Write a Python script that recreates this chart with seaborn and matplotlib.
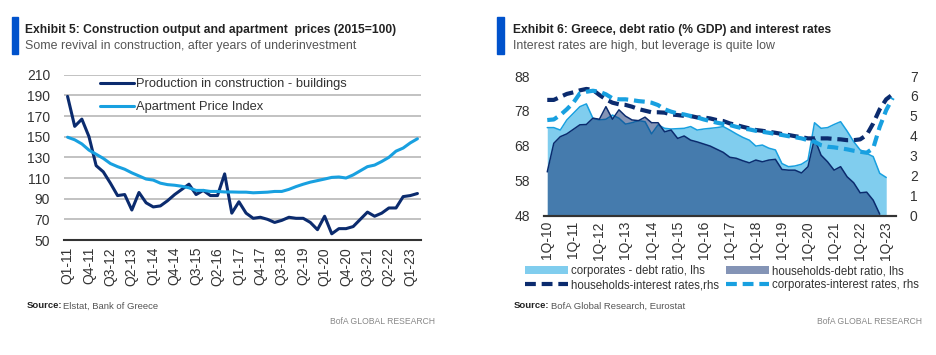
import numpy as np
import pandas as pd
import matplotlib
matplotlib.use("Agg")
import matplotlib.pyplot as plt
import seaborn as sns
from matplotlib.patches import Patch, Rectangle
from matplotlib.lines import Line2D

# ---- Exhibit 5: construction output and apartment prices (2015=100), Q1-11 .. Q2-23
production = [189, 160, 167, 150, 122, 116, 105, 93, 94, 79, 96, 86,
              82, 83, 88, 94, 99, 104, 94, 98, 93, 93, 114, 76,
              87, 76, 71, 72, 70, 67, 69, 72, 71, 71, 67, 60,
              73, 56, 61, 61, 63, 70, 77, 73, 76, 81, 81, 92, 93, 95]
apartment = [149.5, 147, 143, 137, 133, 129, 124, 121, 118.5, 115, 112, 109,
             108, 105, 103.6, 103, 102, 100.5, 98, 98, 97, 97, 96.5, 96.5,
             96.3, 96.3, 95.7, 96, 96.3, 97, 97, 99, 101.7, 104, 106, 107.5,
             109, 110.6, 111, 110, 113, 117, 121, 122.5, 126, 130, 136, 139, 144, 148]
left_ticklabels = ["Q1-11", "Q4-11", "Q3-12", "Q2-13", "Q1-14", "Q4-14", "Q3-15", "Q2-16", "Q1-17",
                   "Q4-17", "Q3-18", "Q2-19", "Q1-20", "Q4-20", "Q3-21", "Q2-22", "Q1-23"]

# ---- Exhibit 6: Greece debt ratio (% GDP, lhs) and interest rates (rhs), 1Q-10 .. 2Q-23
nan = np.nan
hh_debt = [60.5, 68.7, 70.6, 71.4, 72.7, 74.0, 74.1, 75.9, 75.6, 79.2,
           75.6, 78.3, 76.5, 75.4, 75.2, 76.2, 74.6, 74.6, 72.0, 72.5,
           70.1, 70.8, 69.6, 69.1, 68.5, 67.9, 67.0, 66.1, 64.7, 64.4,
           63.7, 63.1, 63.9, 63.4, 63.9, 64.1, 61.2, 61.0, 61.0, 60.2,
           62.0, 70.1, 65.3, 63.4, 61.0, 62.0, 59.1, 57.4, 54.5, 54.7,
           52.4, 48.4, nan, nan]
corp_debt = [73.2, 73.2, 72.5, 75.4, 77.3, 79.2, 80.0, 75.9, 75.4, 75.6,
             76.8, 75.9, 74.2, 74.6, 75.2, 74.9, 71.4, 74.0, 73.0, 72.8,
             72.9, 73.0, 73.5, 72.5, 72.8, 73.0, 73.2, 73.5, 72.5, 71.4,
             70.4, 69.6, 67.9, 68.2, 67.3, 66.8, 62.9, 62.0, 62.2, 62.7,
             63.9, 74.6, 73.0, 73.2, 74.1, 74.9, 72.2, 69.2, 66.8, 65.8,
             64.9, 60.1, 58.9, nan]
hh_rate = [5.8, 5.8, 5.95, 6.1, 6.18, 6.28, 6.35, 6.3, 6.05, 5.83,
           5.66, 5.58, 5.55, 5.46, 5.34, 5.26, 5.18, 5.18, 5.16, 5.07,
           5.04, 5.0, 4.99, 4.92, 4.92, 4.87, 4.79, 4.74, 4.62, 4.54,
           4.45, 4.37, 4.29, 4.25, 4.2, 4.15, 4.09, 4.04, 3.98, 3.93,
           3.87, 3.87, 3.87, 3.87, 3.84, 3.82, 3.78, 3.78, 3.82, 4.04,
           4.62, 5.33, 5.83, 6.08]
corp_rate = [4.79, 4.82, 5.04, 5.33, 5.66, 6.13, 6.21, 6.26, 6.21, 6.08,
             5.88, 5.83, 5.83, 5.79, 5.74, 5.71, 5.66, 5.54, 5.33, 5.21,
             5.12, 5.07, 4.99, 4.92, 4.82, 4.74, 4.66, 4.59, 4.54, 4.45,
             4.37, 4.32, 4.25, 4.2, 4.15, 4.09, 4.04, 3.98, 3.93, 3.87,
             3.78, 3.70, 3.53, 3.45, 3.42, 3.37, 3.32, 3.25, 3.2, 3.15,
             3.37, 4.45, 5.29, 5.9]
right_ticklabels = ["1Q-10", "1Q-11", "1Q-12", "1Q-13", "1Q-14", "1Q-15", "1Q-16",
                    "1Q-17", "1Q-18", "1Q-19", "1Q-20", "1Q-21", "1Q-22", "1Q-23"]

NAVY = "#0B2B6E"
LIGHT = "#18A0E0"
CORP_FILL = "#80CDEE"
BAR = "#0052CC"
TXT = "#333333"

sns.set_theme(style="white")
plt.rcParams['font.family'] = ['Liberation Sans', 'DejaVu Sans']
plt.rcParams['text.color'] = TXT
plt.rcParams['xtick.color'] = TXT
plt.rcParams['ytick.color'] = TXT

fig = plt.figure(figsize=(9.37, 3.55), dpi=100)
W, H = 937, 355


def fx(px):
    return px / W


def fy(py):
    return 1 - py / H


def header(x_bar, x_txt, title, subtitle, source, x_bofa):
    fig.patches.append(Rectangle((fx(x_bar), fy(54)), fx(6.6), 37 / H, transform=fig.transFigure,
                                 color=BAR, zorder=5))
    fig.text(fx(x_txt), fy(30), title, fontsize=8.7, fontweight="bold", va="center", color="#222222")
    fig.text(fx(x_txt), fy(46.5), subtitle, fontsize=8.9, va="center", color="#555555")
    fig.text(fx(x_txt + 1), fy(306), "Source:", fontsize=6.8, fontweight="bold", va="center", color="#222222")
    fig.text(fx(x_txt + 38), fy(306), source, fontsize=6.8, va="center", color="#555555")
    fig.text(fx(x_bofa), fy(321), "BofA GLOBAL RESEARCH", fontsize=6.2, va="center", color="#888888")


# ================= left chart =================
ax = fig.add_axes([fx(64), fy(240), fx(421 - 64), (240 - 74.7) / H])
df_left = pd.DataFrame({"q": np.arange(len(production)), "production": production, "apartment": apartment})
sns.lineplot(data=df_left, x="q", y="production", ax=ax, color=NAVY, lw=2.2,
             label="Production in construction - buildings")
sns.lineplot(data=df_left, x="q", y="apartment", ax=ax, color=LIGHT, lw=2.2,
             label="Apartment Price Index")
ax.set_xlim(-0.5, len(production) - 0.5)
ax.set_ylim(50, 210)
ax.set_yticks(range(50, 211, 20))
ax.yaxis.grid(True, color="#BDBDBD", lw=1.3)
ax.set_axisbelow(True)
ax.set_xticks(range(0, len(production), 3))
ax.set_xticklabels(left_ticklabels, rotation=90)
ax.tick_params(axis="both", length=0, labelsize=10)
ax.tick_params(axis="x", pad=5)
ax.tick_params(axis="y", pad=10)
ax.set_xlabel("")
ax.set_ylabel("")
for s in ["top", "right", "left"]:
    ax.spines[s].set_visible(False)
ax.spines["bottom"].set_color("#333333")
ax.spines["bottom"].set_linewidth(1.5)
ax.legend(loc="upper left", bbox_to_anchor=(fx(100), fy(78)), bbox_transform=fig.transFigure,
          frameon=False, fontsize=9.3, handlelength=2.6, handletextpad=0.2, labelspacing=0.85,
          borderpad=0, borderaxespad=0)

header(11.7, 25.5, "Exhibit 5: Construction output and apartment  prices (2015=100)",
       "Some revival in construction, after years of underinvestment",
       "Elstat, Bank of Greece", 330)

# ================= right chart =================
ax1 = fig.add_axes([fx(544), fy(215.5), fx(896 - 544), (215.5 - 76) / H])
qr = np.arange(len(hh_rate))
df_right = pd.DataFrame({"q": qr, "hh_debt": hh_debt, "corp_debt": corp_debt,
                         "hh_rate": hh_rate, "corp_rate": corp_rate})
ax1.fill_between(qr, 48, df_right["corp_debt"], color=CORP_FILL, lw=0, zorder=1)
sns.lineplot(data=df_right, x="q", y="corp_debt", ax=ax1, color=LIGHT, lw=1.1, zorder=2)
ax1.fill_between(qr, 48, df_right["hh_debt"], color=NAVY, alpha=0.5, lw=0, zorder=3)
sns.lineplot(data=df_right, x="q", y="hh_debt", ax=ax1, color=NAVY, lw=1.1, zorder=4)
ax1.set_xlim(-0.5, len(hh_rate) - 0.5)
ax1.set_ylim(48, 88)
ax1.set_yticks(range(48, 89, 10))
ax1.set_xticks(range(0, len(hh_rate), 4))
ax1.set_xticklabels(right_ticklabels, rotation=90)
ax1.set_xlabel("")
ax1.set_ylabel("")

ax2 = ax1.twinx()
sns.lineplot(data=df_right, x="q", y="hh_rate", ax=ax2, color=NAVY, lw=3.0, dashes=False)
sns.lineplot(data=df_right, x="q", y="corp_rate", ax=ax2, color=LIGHT, lw=3.0, dashes=False)
for ln in ax2.get_lines():
    ln.set_dashes((2.6, 1.4))
ax2.set_ylim(0, 7)
ax2.set_yticks(range(0, 8))
ax2.set_ylabel("")
for a in (ax1, ax2):
    a.tick_params(axis="both", length=0, labelsize=10)
    a.tick_params(axis="x", pad=4)
    a.tick_params(axis="y", pad=10)
    a.grid(False)
    for s in ["top", "right", "left"]:
        a.spines[s].set_visible(False)
    a.spines["bottom"].set_color("#333333")
    a.spines["bottom"].set_linewidth(1.5)

handles = [Patch(facecolor=CORP_FILL, edgecolor="none"),
           Line2D([], [], color=NAVY, lw=3.0, dashes=(2.6, 1.4)),
           Patch(facecolor=NAVY, alpha=0.5, edgecolor="none"),
           Line2D([], [], color=LIGHT, lw=3.0, dashes=(2.6, 1.4))]
labels = ["corporates - debt ratio, lhs", "households-interest rates,rhs",
          "households-debt ratio, lhs", "corporates-interest rates, rhs"]
fig.legend(handles, labels, loc="upper left", bbox_to_anchor=(fx(525), fy(265)), ncol=2,
           frameon=False, fontsize=8.3, handlelength=3.7, handleheight=0.7, handletextpad=0.3,
           labelspacing=0.2, columnspacing=0.6, borderpad=0, borderaxespad=0)

header(497, 513, "Exhibit 6: Greece, debt ratio (% GDP) and interest rates",
       "Interest rates are high, but leverage is quite low",
       "BofA Global Research, Eurostat", 817)

fig.savefig("out.png", dpi=100)
